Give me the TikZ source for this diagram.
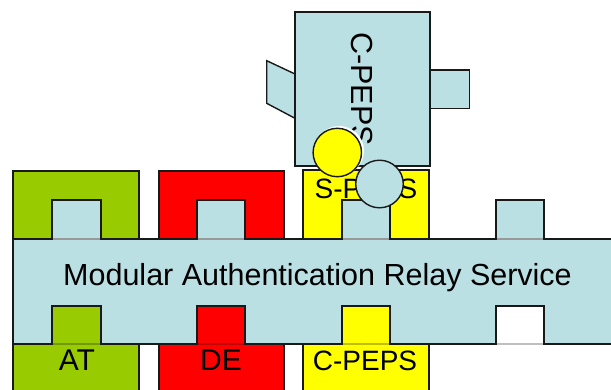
\documentclass[tikz,border=0pt]{standalone}
\usepackage{fontspec}
\setmainfont{Liberation Sans}
\definecolor{relayblue}{RGB}{187,224,228}
\definecolor{atgreen}{RGB}{153,204,0}
\definecolor{dered}{RGB}{255,0,0}
\definecolor{pepsyellow}{RGB}{255,255,0}
\definecolor{edge}{RGB}{25,25,25}
\begin{document}
\begin{tikzpicture}[x=1pt,y=-1pt,
  part/.style={draw=edge,line width=1.4pt,line join=miter},
  bigtext/.style={inner sep=0pt,font=\fontsize{30.5}{36}\selectfont},
  labeltext/.style={inner sep=0pt,font=\fontsize{30}{36}\selectfont},
  pepstext/.style={inner sep=0pt,font=\fontsize{28}{34}\selectfont},
  seam/.style={line width=1.4pt}]
\useasboundingbox (0,0) rectangle (611,389);
\clip (0,0) rectangle (611,389);

% C-PEPS client block with its two side plugs
\draw[part,fill=relayblue] (266.7,60.7) -- (295,74) -- (295,118.3) -- (266.7,103.3) -- cycle;
\draw[part,fill=relayblue] (430,70) rectangle (469.3,108.3);
\draw[part,fill=relayblue] (295,12) rectangle (430,166);
\node[bigtext,rotate=-90] (cpepsv) at (361.5,89) {C-PEPS};

% upper (socket) components
\draw[part,fill=atgreen]    (13,171)  rectangle (139,250);
\draw[part,fill=dered]      (159,171) rectangle (284,250);
\draw[part,fill=pepsyellow] (303,170) rectangle (429,250);

% lower (plug) components
\draw[part,fill=atgreen]    (13,306)  rectangle (139,400);
\draw[part,fill=dered]      (159,306) rectangle (284,400);
\draw[part,fill=pepsyellow] (303,306) rectangle (429,400);

% relay bus with tabs on top and notches below
\draw[part,fill=relayblue]
  (13,239) -- (52,239) -- (52,200) -- (101,200) -- (101,239)
  -- (197,239) -- (197,200) -- (245,200) -- (245,239)
  -- (342,239) -- (342,200) -- (390,200) -- (390,239)
  -- (496,239) -- (496,200) -- (544,200) -- (544,239)
  -- (616,239) -- (616,344)
  -- (544,344) -- (544,306) -- (496,306) -- (496,344)
  -- (390,344) -- (390,306) -- (342,306) -- (342,344)
  -- (245,344) -- (245,306) -- (197,306) -- (197,344)
  -- (101,344) -- (101,306) -- (52,306) -- (52,344)
  -- (13,344) -- cycle;

% softer seams where tabs and notches meet the bus
\foreach \a/\b in {52/101,197/245,342/390,496/544}
  \draw[seam,gray!80] (\a+0.7,239) -- (\b-0.7,239);
\draw[seam,atgreen!75!black]    (52.7,344)  -- (100.3,344);
\draw[seam,dered!75!black]      (197.7,344) -- (244.3,344);
\draw[seam,pepsyellow!75!black] (342.7,344) -- (389.3,344);
\draw[seam,gray!50]             (496.7,344) -- (543.3,344);

% labels
\node[bigtext,anchor=base] (mars) at (317.5,285.7) {Modular Authentication Relay Service};
\node[labeltext,anchor=base] (at) at (77,370.7) {AT};
\node[labeltext,anchor=base] (de) at (221,370.7) {DE};
\node[pepstext,anchor=base] (cpeps) at (365,370.7) {C-PEPS};
\node[pepstext,anchor=base] (speps) at (366,198.3) {S-PEPS};

% connection points
\fill[white] (339.2,150.8) circle (24.8);
\draw[part,fill=pepsyellow] (337.3,152.5) circle (24.2);
\draw[part,fill=relayblue] (379.5,184) circle (23.8);
\end{tikzpicture}
\end{document}
